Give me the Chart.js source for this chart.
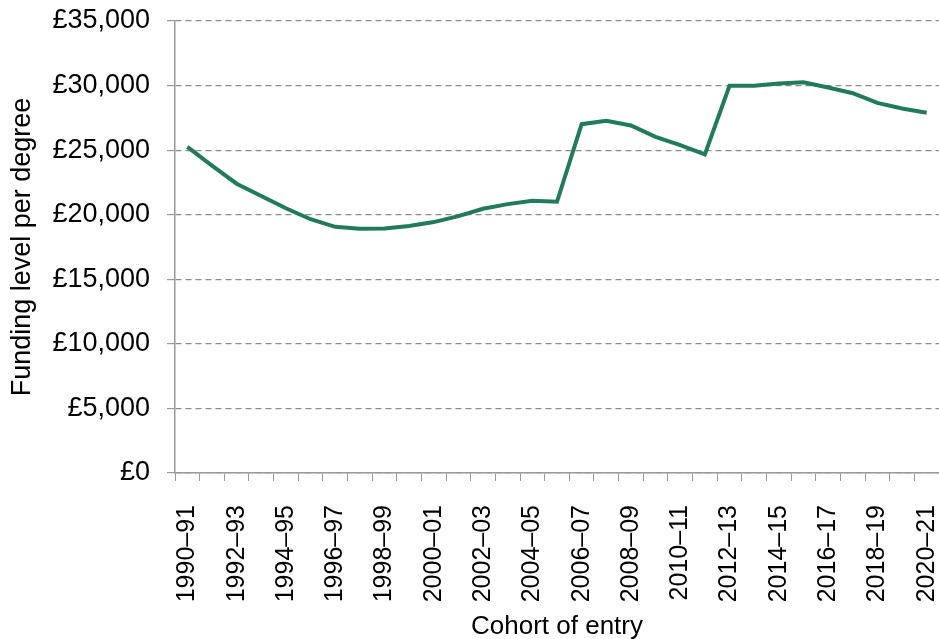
<!DOCTYPE html>
<html lang="en">
<head>
  <meta charset="UTF-8">
  <title>Funding level per degree</title>
  <style>
    html, body { margin: 0; padding: 0; background: #fff; overflow: hidden; }
    #wrap { width: 939px; height: 639px; }
  </style>
</head>
<body>

<div id="wrap">
  <canvas id="myChart"></canvas>
</div>

<script src="https://cdn.jsdelivr.net/npm/chart.js"></script>

<script>
  const cohorts = [
    '1990–91', '1991–92', '1992–93', '1993–94', '1994–95', '1995–96', '1996–97', '1997–98',
    '1998–99', '1999–00', '2000–01', '2001–02', '2002–03', '2003–04', '2004–05', '2005–06',
    '2006–07', '2007–08', '2008–09', '2009–10', '2010–11', '2011–12', '2012–13', '2013–14',
    '2014–15', '2015–16', '2016–17', '2017–18', '2018–19', '2019–20', '2020–21'
  ];
  const funding = [
    25250, 23800, 22400, 21450, 20500, 19650, 19060, 18910,
    18940, 19120, 19430, 19890, 20460, 20820, 21080, 21000,
    27010, 27270, 26910, 26030, 25390, 24670, 29980, 29980,
    30160, 30260, 29850, 29410, 28660, 28230, 27890
  ];
  const yTicks = [0, 5000, 10000, 15000, 20000, 25000, 30000, 35000];

  Chart.defaults.font.family = '"Liberation Sans", Arial, sans-serif';
  Chart.defaults.color = '#000';

  const ctx = document.getElementById('myChart').getContext('2d');
  const myChart = new Chart(ctx, {
    type: 'line',
    data: {
      labels: cohorts,
      datasets: [{
        label: 'Funding level per degree',
        data: funding,
        borderColor: '#217a5b',
        borderWidth: 4,
        pointRadius: 0,
        tension: 0,
        fill: false
      }]
    },
    options: {
      responsive: true,
      maintainAspectRatio: false,
      animation: false,
      layout: { padding: { top: 21, right: 0, left: 0, bottom: 0 } },
      plugins: {
        legend: { display: false },
        tooltip: { enabled: false }
      },
      scales: {
        x: {
          offset: true,
          afterFit: function(scale) {
            // fixed axis band so the plot area lines up with the original
            scale.height = 166;
            scale.paddingLeft = 0;
            scale.paddingRight = 0;
          },
          grid: {
            offset: true,
            drawOnChartArea: false,
            color: '#999',
            tickLength: 8
          },
          border: { color: '#999', width: 1.5 },
          ticks: {
            autoSkip: false,
            minRotation: 90,
            maxRotation: 90,
            padding: 24,
            font: { size: 25 },
            callback: function(val, i) { return i % 2 === 0 ? cohorts[i] : ''; }
          },
          title: {
            display: true,
            text: 'Cohort of entry',
            font: { size: 26 },
            padding: { top: 0, bottom: -3 }
          }
        },
        y: {
          min: 0,
          max: 35000,
          afterBuildTicks: function(axis) { axis.ticks = yTicks.map(v => ({ value: v })); },
          afterFit: function(scale) {
            scale.width = 175;
            scale.paddingTop = 0;
            scale.paddingBottom = 0;
          },
          grid: {
            color: '#8c8c8c',
            tickColor: '#999',
            tickLength: 8,
            tickBorderDash: [],
            lineWidth: 1.2
          },
          border: { color: '#999', width: 1.5, dash: [6, 4] },
          ticks: {
            padding: 17,
            font: { size: 27 },
            callback: function(v) { return '£' + v.toLocaleString('en-GB'); }
          },
          title: {
            display: true,
            text: 'Funding level per degree',
            font: { size: 27 },
            padding: { top: 6, bottom: 0 }
          }
        }
      }
    }
  });
</script>
</body>
</html>
